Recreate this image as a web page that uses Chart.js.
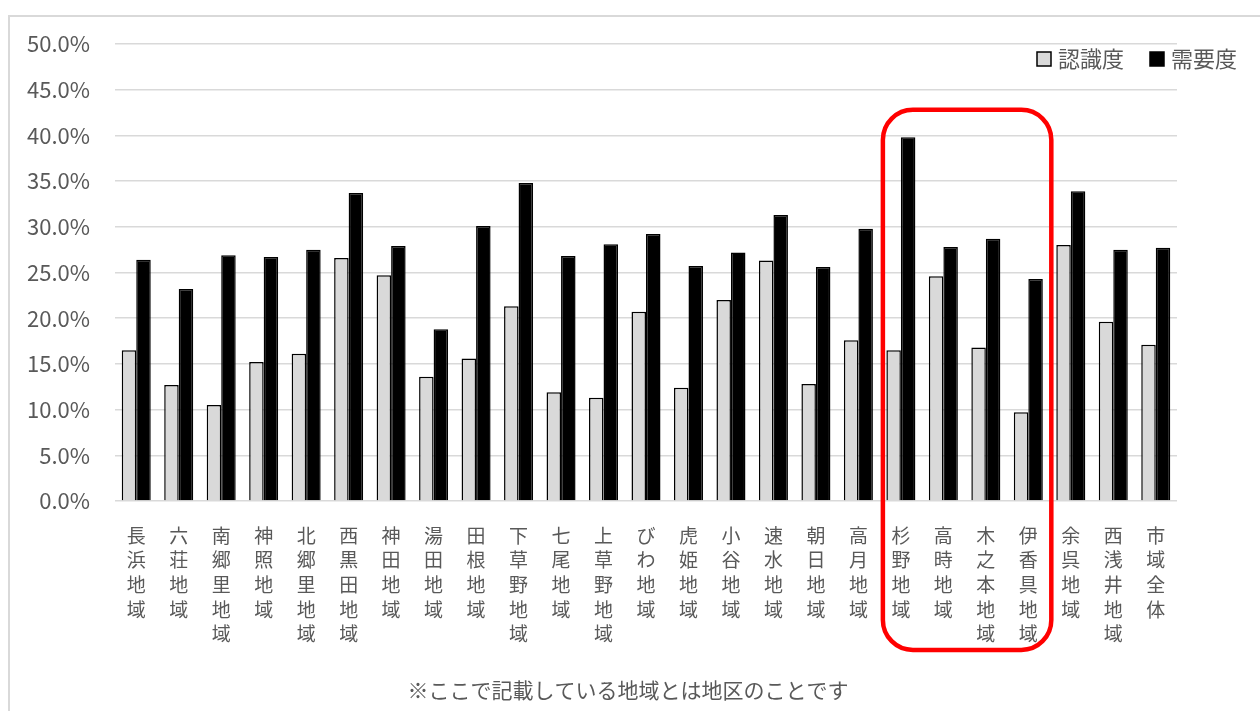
<!DOCTYPE html>
<html>
<head>
<meta charset="utf-8">
<script src="https://cdn.jsdelivr.net/npm/chart.js@4/dist/chart.umd.min.js"></script>
<style>
  html, body { margin: 0; padding: 0; background: #fff; }
  #wrap { width: 1260px; height: 711px; position: relative; }
</style>
</head>
<body>
<div id="wrap"><canvas id="c" width="1260" height="711"></canvas></div>
<script>
const categories = ['長浜地域','六荘地域','南郷里地域','神照地域','北郷里地域','西黒田地域','神田地域','湯田地域','田根地域','下草野地域','七尾地域','上草野地域','びわ地域','虎姫地域','小谷地域','速水地域','朝日地域','高月地域','杉野地域','高時地域','木之本地域','伊香具地域','余呉地域','西浅井地域','市域全体'];
const recognition = [16.5, 12.7, 10.5, 15.2, 16.1, 26.6, 24.7, 13.6, 15.6, 21.3, 11.9, 11.3, 20.7, 12.4, 22.0, 26.3, 12.8, 17.6, 16.5, 24.6, 16.8, 9.7, 28.0, 19.6, 17.1];
const demand = [26.4, 23.2, 26.9, 26.7, 27.5, 33.7, 27.9, 18.8, 30.1, 34.8, 26.8, 28.1, 29.2, 25.7, 27.2, 31.3, 25.6, 29.8, 39.8, 27.8, 28.7, 24.3, 33.9, 27.5, 27.7];
const seriesNames = ['認識度', '需要度'];
const yTicksMax = 50, yTicksStep = 5;
const footnote = '※ここで記載している地域とは地区のことです';
const highlightFrom = '杉野地域', highlightTo = '伊香具地域';

const FONT = "'Noto Sans CJK JP', 'Noto Sans', sans-serif";
const TXT = '#595959';

const framePlugin = {
  id: 'frame',
  beforeDraw(chart) {
    const ctx = chart.ctx;
    ctx.save();
    ctx.strokeStyle = '#d9d9d9';
    ctx.lineWidth = 2;
    ctx.beginPath();
    ctx.moveTo(9, 720);
    ctx.lineTo(9, 16);
    ctx.lineTo(1262, 16);
    ctx.stroke();
    ctx.restore();
  }
};

const legendPlugin = {
  id: 'customLegend',
  afterDraw(chart) {
    const ctx = chart.ctx;
    ctx.save();
    ctx.font = '22px ' + FONT;
    ctx.textBaseline = 'middle';
    const positions = [1037, 1150];
    chart.data.datasets.forEach((ds, i) => {
      const x = positions[i], y = 59;
      ctx.fillStyle = ds.backgroundColor;
      ctx.fillRect(x, y - 7, 14, 14);
      ctx.strokeStyle = '#000';
      ctx.lineWidth = 1.5;
      ctx.strokeRect(x, y - 7, 14, 14);
      ctx.fillStyle = TXT;
      ctx.textAlign = 'left';
      ctx.fillText(ds.label, x + 21, y);
    });
    ctx.restore();
  }
};

const notePlugin = {
  id: 'note',
  afterDraw(chart) {
    const ctx = chart.ctx;
    ctx.save();
    ctx.font = '21px ' + FONT;
    ctx.fillStyle = TXT;
    ctx.textAlign = 'center';
    ctx.textBaseline = 'middle';
    ctx.fillText(footnote, 628, 690);
    ctx.restore();
  }
};

const highlightPlugin = {
  id: 'highlight',
  afterDraw(chart) {
    const xs = chart.scales.x, ys = chart.scales.y;
    const i1 = categories.indexOf(highlightFrom), i2 = categories.indexOf(highlightTo);
    const x1 = xs.getPixelForValue(i1) - 18;
    const x2 = xs.getPixelForValue(i2) + 23;
    const y1 = ys.getPixelForValue(42.8);
    const y2 = chart.chartArea.bottom + 149;
    const r = 30;
    const ctx = chart.ctx;
    ctx.save();
    ctx.strokeStyle = '#ff0000';
    ctx.lineWidth = 4.5;
    ctx.beginPath();
    ctx.moveTo(x1 + r, y1);
    ctx.lineTo(x2 - r, y1);
    ctx.arcTo(x2, y1, x2, y1 + r, r);
    ctx.lineTo(x2, y2 - r);
    ctx.arcTo(x2, y2, x2 - r, y2, r);
    ctx.lineTo(x1 + r, y2);
    ctx.arcTo(x1, y2, x1, y2 - r, r);
    ctx.lineTo(x1, y1 + r);
    ctx.arcTo(x1, y1, x1 + r, y1, r);
    ctx.closePath();
    ctx.stroke();
    ctx.restore();
  }
};

new Chart(document.getElementById('c'), {
  type: 'bar',
  data: {
    labels: categories.map(s => s.split('')),
    datasets: [
      { label: seriesNames[0], data: recognition, backgroundColor: '#d9d9d9', borderColor: '#000', borderWidth: 1.5 },
      { label: seriesNames[1], data: demand, backgroundColor: '#000', borderColor: '#000', borderWidth: 1.5 }
    ]
  },
  options: {
    responsive: false,
    animation: false,
    layout: { padding: { left: 8, right: 83, top: 44, bottom: 47 } },
    datasets: { bar: { categoryPercentage: 0.683, barPercentage: 1 } },
    plugins: {
      legend: { display: false },
      title: { display: false },
      tooltip: { enabled: false }
    },
    scales: {
      x: {
        grid: { display: false },
        border: { display: false },
        ticks: {
          color: TXT, maxRotation: 0, minRotation: 0, autoSkip: false, padding: 14,
          font: { family: FONT, size: 19, lineHeight: 1.3 }
        },
        afterFit(scale) { scale.height = 163; }
      },
      y: {
        min: 0, max: yTicksMax,
        grid: { color: '#d9d9d9', lineWidth: 1.5, drawTicks: false },
        border: { display: false },
        ticks: {
          stepSize: yTicksStep, color: TXT, padding: 25,
          font: { family: FONT, size: 22 },
          callback: v => v.toFixed(1) + '%'
        },
        afterFit(scale) { scale.width = 107; }
      }
    }
  },
  plugins: [framePlugin, legendPlugin, notePlugin, highlightPlugin]
});
</script>
</body>
</html>
